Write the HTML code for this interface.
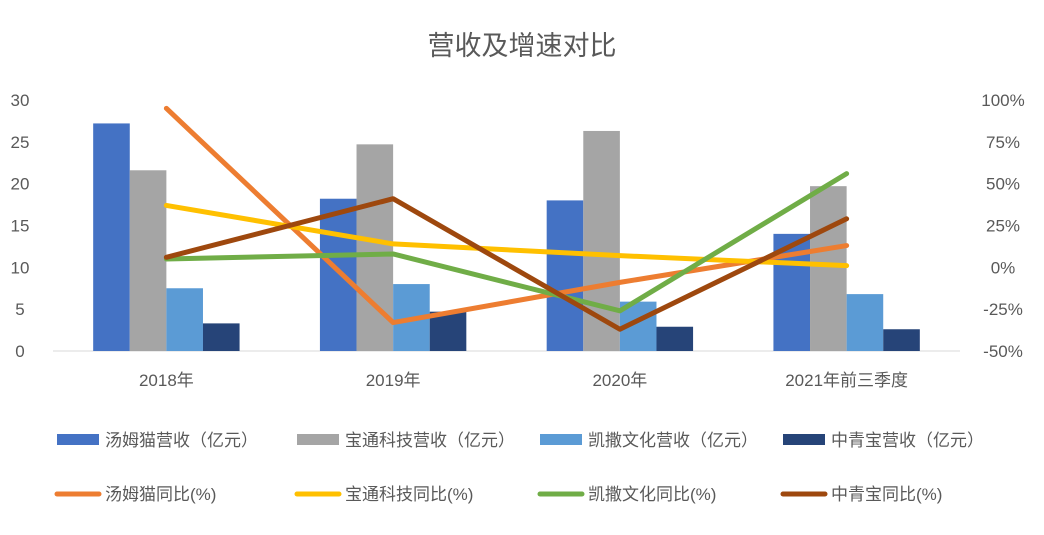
<!DOCTYPE html>
<html><head><meta charset="utf-8"><style>
body{margin:0;background:#fff;}
svg text{font-family:"Liberation Sans","Noto Sans CJK SC",sans-serif;fill:#595959;}
</style></head><body>
<svg width="1044" height="530" xmlns="http://www.w3.org/2000/svg">
<rect width="1044" height="530" fill="#fff"/>
<text x="522" y="55" text-anchor="middle" font-size="27">营收及增速对比</text>
<g id="plot"></g>
<g id="legend"></g>
</svg>
<script>
const categories=["2018年","2019年","2020年","2021年前三季度"];
const barNames=["汤姆猫营收（亿元）","宝通科技营收（亿元）","凯撒文化营收（亿元）","中青宝营收（亿元）"];
const tangmuRev=[27.2,18.2,18.0,14.0];
const baotongRev=[21.6,24.7,26.3,19.7];
const kaisaRev=[7.5,8.0,5.9,6.8];
const zhongqingRev=[3.3,4.7,2.9,2.6];
const lineNames=["汤姆猫同比(%)","宝通科技同比(%)","凯撒文化同比(%)","中青宝同比(%)"];
const tangmuYoY=[95,-33,-9,13];
const baotongYoY=[37,14,7,1];
const kaisaYoY=[5,8,-26,56];
const zhongqingYoY=[6,41,-37,29];
const leftTicks=[0,5,10,15,20,25,30];
const rightTicks=[-50,-25,0,25,50,75,100];

const ns="http://www.w3.org/2000/svg";
const plot=document.getElementById('plot'),legend=document.getElementById('legend');
const barColors=["#4472C4","#A5A5A5","#5B9BD5","#264478"];
const lineColors=["#ED7D31","#FFC000","#70AD47","#9E480E"];
const barData=[tangmuRev,baotongRev,kaisaRev,zhongqingRev];
const lineData=[tangmuYoY,baotongYoY,kaisaYoY,zhongqingYoY];
const x0=53,x1=960,y0=351,yTop=100;
const step=(x1-x0)/categories.length;
const cx=i=>x0+step*(i+0.5);
const yL=v=>y0-(v/30)*(y0-yTop);
const yR=v=>y0-((v+50)/150)*(y0-yTop);
function mk(t,a,p){const e=document.createElementNS(ns,t);for(const k in a)e.setAttribute(k,a[k]);(p||plot).appendChild(e);return e;}
leftTicks.forEach(v=>{const t=mk('text',{x:20,y:yL(v)+6,'text-anchor':'middle','font-size':17});t.textContent=v;

});
rightTicks.forEach(v=>{const t=mk('text',{x:1003,y:yR(v)+6,'text-anchor':'middle','font-size':17});t.textContent=v+'%';

});
const ax=mk('line',{x1:x0,x2:x1,y1:y0,y2:y0,stroke:'#D9D9D9','stroke-width':1});


const bw=36.6;
categories.forEach((c,i)=>{
 const t=mk('text',{x:cx(i),y:386,'text-anchor':'middle','font-size':17});t.textContent=c;
 
 
 barData.forEach((s,j)=>{const r=mk('rect',{x:cx(i)-2*bw+j*bw,y:yL(s[i]),width:bw,height:y0-yL(s[i]),fill:barColors[j]});
 
 });
});
lineData.forEach((s,j)=>{const p=mk('polyline',{points:s.map((v,i)=>cx(i)+','+yR(v)).join(' '),fill:'none',stroke:lineColors[j],'stroke-width':5,'stroke-linejoin':'round','stroke-linecap':'round'});

});
const lx=[57,297,540,783];
barNames.forEach((n,j)=>{const r=mk('rect',{x:lx[j],y:434,width:42,height:11,fill:barColors[j]},legend);


const t=mk('text',{x:lx[j]+48,y:446,'font-size':17},legend);t.textContent=n;

});
lineNames.forEach((n,j)=>{const l=mk('line',{x1:lx[j],x2:lx[j]+42,y1:494,y2:494,stroke:lineColors[j],'stroke-width':5,'stroke-linecap':'round'},legend);


const t=mk('text',{x:lx[j]+48,y:500,'font-size':17},legend);t.textContent=n;

});
</script>
</body></html>
